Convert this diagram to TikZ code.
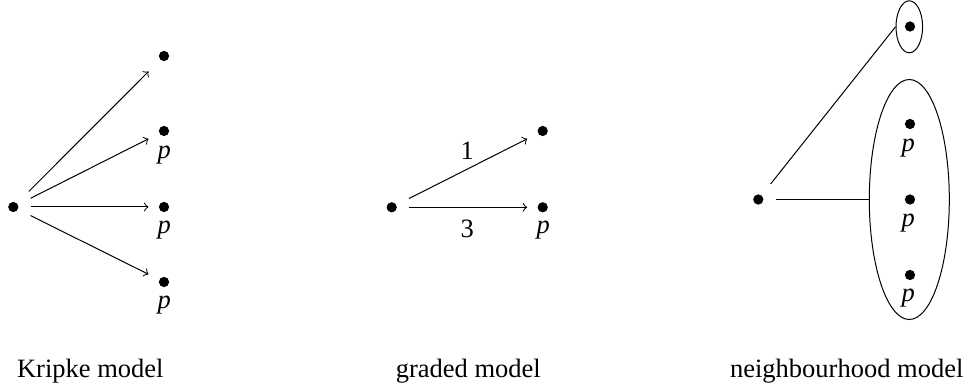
\documentclass[tikz,border=0pt]{standalone}
\usepackage{fontspec}
\setmainfont{Liberation Serif}
\usetikzlibrary{shapes.geometric}
\begin{document}
\begin{tikzpicture}[x=0.4pt,y=-0.4pt,
  every node/.style={font=\fontsize{10.6pt}{12.7pt}\selectfont},
  dot/.style={rectangle, inner sep=0pt, minimum width=12pt, minimum height=12pt,
    path picture={\fill (path picture bounding box.center) circle (2.05pt);}},
  src/.style={dot, minimum width=13.4pt},
  prop/.style={inner sep=0pt},
  arr/.style={->, line width=0.4pt},
  link/.style={line width=0.4pt},
  nbhd/.style={draw, ellipse, inner sep=0pt, line width=0.4pt},
  modelname/.style={anchor=base}]
\useasboundingbox (0,0) rectangle (967,391);

% Kripke model
\node[src] (k0) at (13.3,207) {};
\node[dot] (k1) at (164,56) {};
\node[dot] (k2) at (164,131) {};
\node[dot] (k3) at (164,207) {};
\node[dot] (k4) at (164,282) {};
\node[prop] (kp2) at (164.3,154.7) {\textit{p}};
\node[prop] (kp3) at (164.3,230.3) {\textit{p}};
\node[prop] (kp4) at (164.3,305.3) {\textit{p}};
\draw[arr] (k0) -- (k1);
\draw[arr] (k0) -- (k2);
\draw[arr] (k0) -- (k3);
\draw[arr] (k0) -- (k4);

% graded model
\node[src] (g0) at (391.7,207.3) {};
\node[dot] (g1) at (542.7,131) {};
\node[dot] (g2) at (542.7,207.3) {};
\node[prop] (gp2) at (543.3,230) {\textit{p}};
\draw[arr] (g0) -- (g1);
\draw[arr] (g0) -- (g2);
\node[prop] (gl1) at (467.3,151.2) {1};
\node[prop] (gl3) at (467.3,229) {3};

% neighbourhood model
\node[src] (n0) at (758.3,199.5) {};
\node[dot] (n1) at (910,26.5) {};
\node[dot] (n2) at (910,124) {};
\node[dot] (n3) at (910,199.5) {};
\node[dot] (n4) at (910,275) {};
\node[prop] (np2) at (908.3,148.3) {\textit{p}};
\node[prop] (np3) at (908.3,223.3) {\textit{p}};
\node[prop] (np4) at (908.3,298.3) {\textit{p}};
\node[nbhd, minimum width=10.64pt, minimum height=20.8pt] (E1) at (909.3,26.8) {};
\node[nbhd, minimum width=32pt, minimum height=96pt] (E2) at (909.3,199.5) {};
\draw[link] (n0) -- (E1.west);
\draw[link] (n0) -- (E2);

% captions
\node[modelname] (c1) at (90.3,378) {Kripke model};
\node[modelname] (c2) at (468.3,378) {graded model};
\node[modelname] (c3) at (846.7,378) {neighbourhood model};
\end{tikzpicture}
\end{document}
